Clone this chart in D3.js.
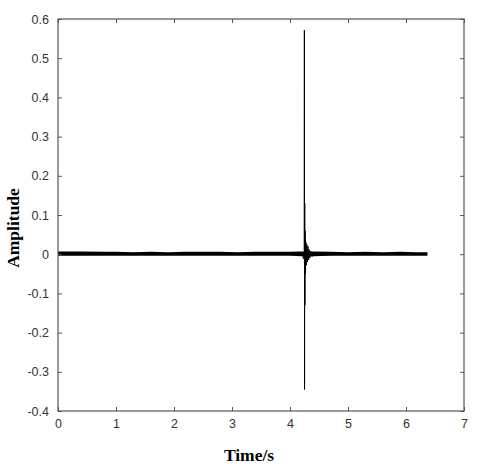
<!DOCTYPE html>
<html>
<head>
<meta charset="utf-8">
<script src="https://cdn.jsdelivr.net/npm/d3@7"></script>
<style>
  body { margin: 0; background: #fff; }
  svg { display: block; }
</style>
</head>
<body>
<svg id="chart" width="480" height="469"></svg>
<script>
// axis ticks
var xTicks = [0, 1, 2, 3, 4, 5, 6, 7];
var yTicks = [-0.4, -0.3, -0.2, -0.1, 0, 0.1, 0.2, 0.3, 0.4, 0.5, 0.6];

// background noise band (envelope)
var noiseT  = [0, 0.4, 0.8, 1.0, 1.3, 1.6, 1.9, 2.2, 2.5, 2.8, 3.1, 3.4, 3.7, 4.0, 4.2, 4.4, 4.7, 5.0, 5.3, 5.6, 5.9, 6.2, 6.37];
var noiseHi = [0.007, 0.007, 0.006, 0.006, 0.005, 0.006, 0.005, 0.006, 0.006, 0.006, 0.005, 0.006, 0.006, 0.006, 0.007, 0.007, 0.006, 0.005, 0.006, 0.005, 0.006, 0.005, 0.005];
var noiseLo = [-0.004, -0.004, -0.004, -0.004, -0.004, -0.004, -0.004, -0.004, -0.004, -0.004, -0.004, -0.004, -0.004, -0.004, -0.005, -0.005, -0.004, -0.004, -0.004, -0.004, -0.004, -0.004, -0.004];

// event trace around the spike
var spikeT = [4.18, 4.22, 4.235, 4.245, 4.248, 4.251, 4.254, 4.257, 4.260, 4.263, 4.267, 4.270, 4.275, 4.280, 4.290, 4.300, 4.310, 4.320, 4.330, 4.340, 4.360, 4.380, 4.420];
var spikeV = [0, -0.004, -0.012, 0.004, 0.572, -0.345, 0.13, -0.13, 0.06, -0.05, 0.035, -0.03, 0.03, -0.028, 0.025, -0.02, 0.02, -0.015, 0.012, -0.01, 0.008, -0.006, 0];

var margin = {left: 58, top: 19, right: 16, bottom: 58};
var width = 480 - margin.left - margin.right,
    height = 469 - margin.top - margin.bottom;

var svg = d3.select("#chart");
var g = svg.append("g").attr("transform", "translate(" + margin.left + "," + margin.top + ")");

var x = d3.scaleLinear().domain([0, 7]).range([0, width]);
var y = d3.scaleLinear().domain([-0.4, 0.6]).range([height, 0]);

// noise band
var noise = noiseT.map(function(t, i) { return {t: t, hi: noiseHi[i], lo: noiseLo[i]}; });
g.append("path")
    .datum(noise)
    .attr("fill", "#000")
    .attr("d", d3.area()
        .x(function(d) { return x(d.t); })
        .y0(function(d) { return y(d.lo); })
        .y1(function(d) { return y(d.hi); }));

// spike trace
var spike = spikeT.map(function(t, i) { return {t: t, v: spikeV[i]}; });
g.append("path")
    .datum(spike)
    .attr("fill", "none")
    .attr("stroke", "#000")
    .attr("stroke-width", 1)
    .attr("d", d3.line()
        .x(function(d) { return x(d.t); })
        .y(function(d) { return y(d.v); }));

// axes with inner ticks on all four sides
var axisColor = "#555";
function styleAxis(sel) {
  sel.select(".domain").remove();
  sel.selectAll(".tick line").attr("stroke", axisColor);
  sel.selectAll(".tick text")
     .attr("fill", "#333")
     .style("font-family", "'Liberation Sans', Arial, sans-serif")
     .style("font-size", "12.5px");
}

g.append("g")
    .attr("transform", "translate(0," + height + ")")
    .call(d3.axisBottom(x).tickValues(xTicks).tickSize(-4).tickPadding(8).tickFormat(d3.format("d")))
    .call(styleAxis);

g.append("g")
    .call(d3.axisTop(x).tickValues(xTicks).tickSize(-4).tickFormat(""))
    .call(styleAxis);

g.append("g")
    .call(d3.axisLeft(y).tickValues(yTicks).tickSize(-4).tickPadding(9).tickFormat(function(d) { return d3.format(".1f")(d).replace("−", "-").replace(/^0\.0$/, "0").replace(/^-0\.0$/, "0"); }))
    .call(styleAxis);

g.append("g")
    .attr("transform", "translate(" + width + ",0)")
    .call(d3.axisRight(y).tickValues(yTicks).tickSize(-4).tickFormat(""))
    .call(styleAxis);

g.append("rect")
    .attr("x", 0).attr("y", 0)
    .attr("width", width).attr("height", height)
    .attr("fill", "none")
    .attr("stroke", axisColor)
    .attr("stroke-width", 1.2);

// labels
svg.append("text")
    .attr("x", 249).attr("y", 461)
    .attr("text-anchor", "middle")
    .style("font-family", "'Liberation Serif', 'Times New Roman', serif")
    .style("font-weight", "bold")
    .style("font-size", "17.5px")
    .text("Time/s");

svg.append("text")
    .attr("transform", "translate(19,228) rotate(-90)")
    .attr("text-anchor", "middle")
    .style("font-family", "'Liberation Serif', 'Times New Roman', serif")
    .style("font-weight", "bold")
    .style("font-size", "17.5px")
    .text("Amplitude");
</script>
</body>
</html>
